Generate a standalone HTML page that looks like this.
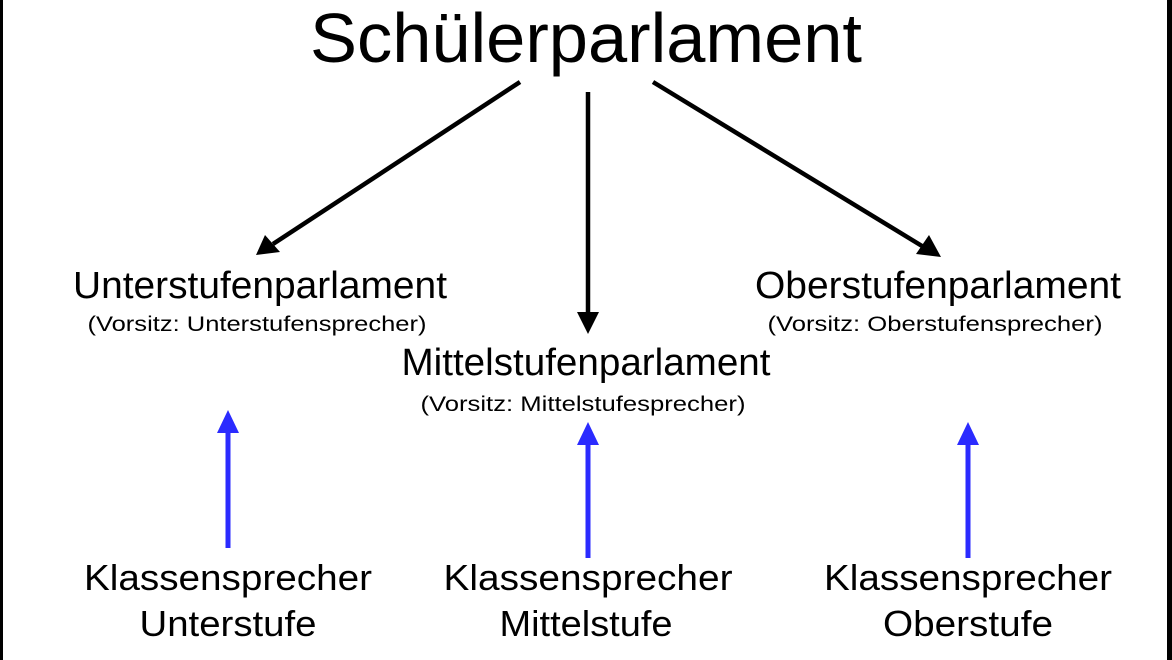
<!DOCTYPE html>
<html><head><meta charset="utf-8"><style>
html,body{margin:0;padding:0;background:#fff;}
svg{display:block;}
text{font-family:"Liberation Sans",Arial,sans-serif;fill:#000;}
</style></head><body>
<svg width="1172" height="660" viewBox="0 0 1172 660" xmlns="http://www.w3.org/2000/svg">
<rect width="1172" height="660" fill="#fff"/>
<rect x="0" y="0" width="3" height="660" fill="#000"/>
<rect x="1167" y="0" width="5" height="660" fill="#000"/>

<text x="586" y="62" font-size="70" text-anchor="middle" textLength="552" lengthAdjust="spacingAndGlyphs">Schülerparlament</text>

<!-- black arrows -->
<g stroke="#000" stroke-width="4.5" fill="none">
<line x1="520" y1="82" x2="273" y2="244"/>
<line x1="588" y1="92" x2="588" y2="316"/>
<line x1="653" y1="82" x2="922" y2="246"/>
</g>
<polygon points="256,255 265,235 280,252" fill="#000"/>
<polygon points="588,334 577,312 599,312" fill="#000"/>
<polygon points="941,257 916,254 929,235" fill="#000"/>

<!-- blue arrows -->
<g stroke="#2b2bff" stroke-width="5">
<line x1="228" y1="548" x2="228" y2="430"/>
<line x1="588" y1="558" x2="588" y2="440"/>
<line x1="968" y1="558" x2="968" y2="440"/>
</g>
<g fill="#2b2bff">
<polygon points="228,410 217,433 239,433"/>
<polygon points="588,422 577,445 599,445"/>
<polygon points="968,422 957,445 979,445"/>
</g>

<text x="260" y="298" font-size="38" text-anchor="middle" textLength="374" lengthAdjust="spacingAndGlyphs">Unterstufenparlament</text>
<text x="257" y="331" font-size="21" text-anchor="middle" textLength="339" lengthAdjust="spacingAndGlyphs">(Vorsitz: Unterstufensprecher)</text>

<text x="938" y="298" font-size="38" text-anchor="middle" textLength="366" lengthAdjust="spacingAndGlyphs">Oberstufenparlament</text>
<text x="935" y="331" font-size="21" text-anchor="middle" textLength="335" lengthAdjust="spacingAndGlyphs">(Vorsitz: Oberstufensprecher)</text>

<text x="586" y="375" font-size="38" text-anchor="middle" textLength="369" lengthAdjust="spacingAndGlyphs">Mittelstufenparlament</text>
<text x="583" y="411" font-size="21" text-anchor="middle" textLength="325" lengthAdjust="spacingAndGlyphs">(Vorsitz: Mittelstufesprecher)</text>

<text x="228" y="590" font-size="36" text-anchor="middle" textLength="288" lengthAdjust="spacingAndGlyphs">Klassensprecher</text>
<text x="228" y="636" font-size="36" text-anchor="middle" textLength="177" lengthAdjust="spacingAndGlyphs">Unterstufe</text>
<text x="588" y="590" font-size="36" text-anchor="middle" textLength="289" lengthAdjust="spacingAndGlyphs">Klassensprecher</text>
<text x="586" y="636" font-size="36" text-anchor="middle" textLength="173" lengthAdjust="spacingAndGlyphs">Mittelstufe</text>
<text x="968" y="590" font-size="36" text-anchor="middle" textLength="288" lengthAdjust="spacingAndGlyphs">Klassensprecher</text>
<text x="968" y="636" font-size="36" text-anchor="middle" textLength="170" lengthAdjust="spacingAndGlyphs">Oberstufe</text>
</svg>
</body></html>
